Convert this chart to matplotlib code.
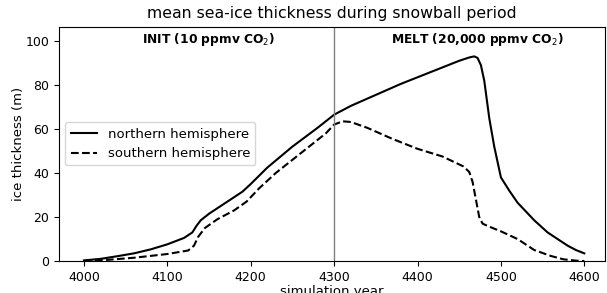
import matplotlib
matplotlib.use("Agg")
import matplotlib.pyplot as plt

# northern hemisphere mean ice thickness (m)
years_n = [4000, 4020, 4040, 4060, 4080, 4100, 4120, 4130, 4135, 4140, 4150, 4170, 4190,
           4200, 4220, 4250, 4280, 4300, 4320, 4350, 4380, 4400, 4430, 4450, 4462,
           4468, 4472, 4476, 4480, 4486, 4492, 4500, 4510, 4520, 4540, 4556, 4580, 4590, 4600]
north = [0.3, 1.0, 2.2, 3.5, 5.3, 7.6, 10.5, 13.0, 16.0, 18.5, 21.5, 26.5, 31.5,
         35.0, 42.5, 52.0, 60.5, 66.5, 70.5, 75.5, 80.5, 83.5, 88.0, 91.0, 92.5,
         93.0, 92.3, 89.0, 82.0, 65.0, 52.0, 38.0, 32.0, 26.5, 18.5, 13.0, 7.0, 5.0, 3.5]

# southern hemisphere mean ice thickness (m)
years_s = [4000, 4030, 4060, 4100, 4125, 4132, 4137, 4145, 4160, 4180, 4195,
           4210, 4230, 4260, 4290, 4300, 4310, 4320, 4340, 4370, 4400, 4430,
           4455, 4462, 4466, 4470, 4474, 4478, 4485, 4500, 4520, 4540, 4560, 4575, 4590, 4600]
south = [0.0, 0.6, 1.5, 3.2, 4.8, 7.0, 11.0, 15.0, 19.0, 23.0, 27.0,
         33.0, 40.0, 49.0, 58.0, 62.0, 63.5, 63.2, 60.5, 55.5, 51.0, 47.5,
         43.0, 40.5, 36.0, 28.0, 20.0, 17.0, 15.8, 13.5, 10.0, 5.0, 2.3, 0.8, 0.2, 0.0]

fig = plt.figure(figsize=(6.07, 2.93), dpi=100)
ax = fig.add_axes([0.097, 0.109, 0.9, 0.8])

ax.plot(years_n, north, color="black", linewidth=1.5, label="northern hemisphere")
ax.plot(years_s, south, color="black", linewidth=1.5, linestyle="--", label="southern hemisphere")
ax.axvline(4300, color="grey", linewidth=1)

ax.text(4149, 100.5, "INIT (10 ppmv CO$_2$)", ha="center", va="center", fontsize=8.8, fontweight="bold")
ax.text(4472, 100.5, "MELT (20,000 ppmv CO$_2$)", ha="center", va="center", fontsize=8.8, fontweight="bold")

ax.set_xlim(3970, 4625)
ax.set_ylim(0, 106.5)
ax.set_xticks([4000, 4100, 4200, 4300, 4400, 4500, 4600])
ax.set_yticks([0, 20, 40, 60, 80, 100])
ax.tick_params(labelsize=9)
ax.set_xlabel("simulation year", fontsize=9.5, labelpad=1)
ax.set_ylabel("ice thickness (m)", fontsize=9.5, labelpad=0)
ax.set_title("mean sea-ice thickness during snowball period", fontsize=11.3)
ax.legend(loc="center left", fontsize=9.5)

fig.savefig("out.png", dpi=100)
